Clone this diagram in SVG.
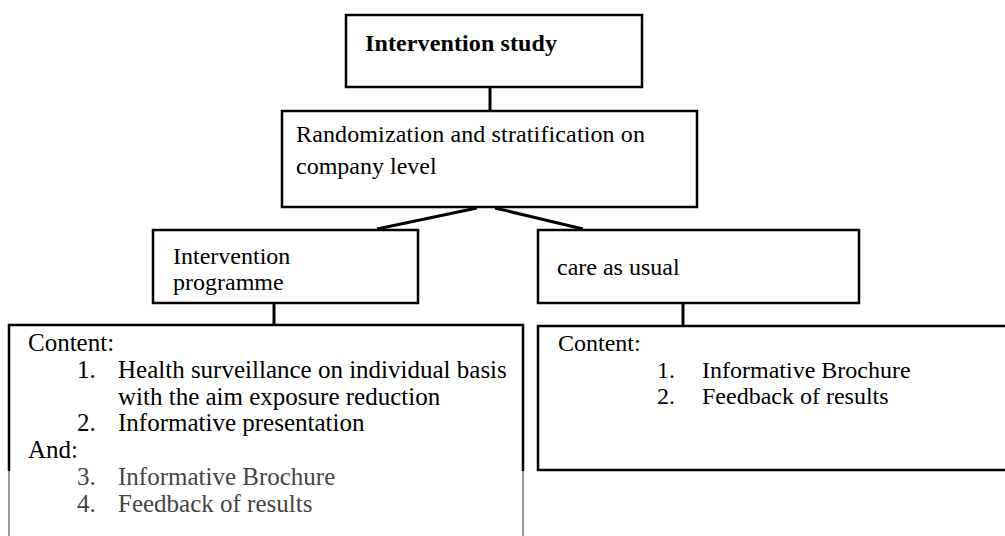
<svg xmlns="http://www.w3.org/2000/svg" width="1005" height="536" viewBox="0 0 1005 536">
<style>
.box{fill:#fff;stroke:#000;stroke-width:2.5}
.t{font-family:'Liberation Serif','Times New Roman',Times,'DejaVu Serif',serif;font-size:24px;font-weight:400;fill:#000}
.l{font-size:25px}
.b{font-weight:700}
.c{stroke:#000;stroke-width:3;fill:none}
.g{fill:#444}
</style>
<rect width="1005" height="536" fill="#fff"/>
<g id="connectors">
<line class="c" x1="490" y1="87" x2="490" y2="111"/>
<line class="c" x1="477" y1="208" x2="377" y2="229"/>
<line class="c" x1="495" y1="208" x2="583" y2="229"/>
<line class="c" x1="274" y1="303" x2="274" y2="325"/>
<line class="c" x1="683" y1="303" x2="683" y2="326"/>
</g>
<g id="n1">
<rect class="box" x="346" y="15" width="296" height="72" stroke-width="2"/>
<text class="t b" x="365" y="51" textLength="192">Intervention study</text>
</g>
<g id="n2">
<rect class="box" x="282" y="111" width="415" height="96" stroke-width="2"/>
<text class="t" x="296" y="142" textLength="349">Randomization and stratification on</text>
<text class="t" x="296" y="174">company level</text>
</g>
<g id="n3">
<rect class="box" x="153" y="230" width="265" height="73"/>
<text class="t" x="173" y="264">Intervention</text>
<text class="t" x="173" y="290">programme</text>
</g>
<g id="n4">
<rect class="box" x="538" y="230" width="321" height="73"/>
<text class="t" x="557" y="275">care as usual</text>
</g>
<g id="n5">
<path d="M9,471 V325 H523 V471" fill="none" stroke="#000" stroke-width="2.5"/>
<path d="M9,471 V536 M523,471 V536" fill="none" stroke="#777" stroke-width="1.5"/>
<text class="t l" x="28" y="351">Content:</text>
<text class="t l" x="77" y="378">1.</text>
<text class="t l" x="118" y="378">Health surveillance on individual basis</text>
<text class="t l" x="118" y="405">with the aim exposure reduction</text>
<text class="t l" x="77" y="431">2.</text>
<text class="t l" x="118" y="431">Informative presentation</text>
<text class="t l" x="28" y="458">And:</text>
<text class="t l g" x="77" y="485">3.</text>
<text class="t l g" x="118" y="485">Informative Brochure</text>
<text class="t l g" x="77" y="512">4.</text>
<text class="t l g" x="118" y="512">Feedback of results</text>
</g>
<g id="n6">
<path d="M1010,326 H538 V470 H1010" fill="none" stroke="#000" stroke-width="2.5"/>
<text class="t" x="558" y="351">Content:</text>
<text class="t" x="657" y="378">1.</text>
<text class="t" x="702" y="378">Informative Brochure</text>
<text class="t" x="657" y="404">2.</text>
<text class="t" x="702" y="404">Feedback of results</text>
</g>
</svg>
